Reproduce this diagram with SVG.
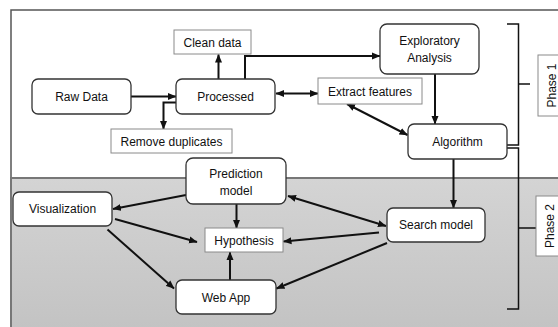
<svg xmlns="http://www.w3.org/2000/svg" width="558" height="327" viewBox="0 0 558 327">
  <defs>
    <linearGradient id="phase2Fill" x1="0" y1="0" x2="0" y2="1">
      <stop offset="0" stop-color="#d4d4d4"/>
      <stop offset="1" stop-color="#c2c2c2"/>
    </linearGradient>
    <marker id="arrow" markerUnits="userSpaceOnUse" markerWidth="9" markerHeight="8" refX="8" refY="4" orient="auto-start-reverse">
      <path d="M0,0.5 L8.5,4 L0,7.5 z" fill="#111"/>
    </marker>
    <style>
      .node { fill: #fff; stroke: #333; stroke-width: 1.3; }
      .box { fill: #fff; stroke: #8a8a8a; stroke-width: 1; }
      .label { font-family: "Liberation Sans", Arial, sans-serif; font-size: 12px; fill: #111; text-anchor: middle; }
      .link { fill: none; stroke: #111; stroke-width: 2; }
      .bracket { fill: none; stroke: #111; stroke-width: 1.5; }
    </style>
  </defs>

  <!-- phase panels -->
  <g id="phase1-panel">
    <rect x="11" y="10" width="560" height="168" fill="#fff" stroke="#555" stroke-width="1.5"/>
  </g>
  <g id="phase2-panel">
    <rect x="11" y="178" width="560" height="160" fill="url(#phase2Fill)" stroke="#777" stroke-width="2"/>
  </g>

  <!-- connectors -->
  <g id="connectors">
    <path class="link" d="M131,96.5 H176" marker-end="url(#arrow)"/>
    <path class="link" d="M218.5,79 V54.5" marker-end="url(#arrow)"/>
    <path class="link" d="M245,79 V56 H380" marker-end="url(#arrow)"/>
    <path class="link" d="M176,102.5 H163.5 V129" marker-end="url(#arrow)"/>
    <path class="link" d="M276,93.5 H318" marker-start="url(#arrow)" marker-end="url(#arrow)"/>
    <path class="link" d="M347,104 L407.5,135" marker-start="url(#arrow)" marker-end="url(#arrow)"/>
    <path class="link" d="M435,74 V124" marker-end="url(#arrow)"/>
    <path class="link" d="M453.5,159 V208" marker-end="url(#arrow)"/>
    <path class="link" d="M186,195 L113,209" marker-end="url(#arrow)"/>
    <path class="link" d="M236.5,204 V228" marker-end="url(#arrow)"/>
    <path class="link" d="M115,219 L197,242" marker-end="url(#arrow)"/>
    <path class="link" d="M107.5,229.5 L174,288.5" marker-end="url(#arrow)"/>
    <path class="link" d="M230,280 V252" marker-end="url(#arrow)"/>
    <path class="link" d="M288,196 L386,226" marker-start="url(#arrow)" marker-end="url(#arrow)"/>
    <path class="link" d="M379,232.5 L283.5,241.5" marker-end="url(#arrow)"/>
    <path class="link" d="M387,243 L276.5,288.5" marker-end="url(#arrow)"/>
    <!-- phase brackets -->
    <path class="bracket" d="M507,24 H518.5 V145 H507 M518.5,84 H530"/>
    <path class="bracket" d="M507,148 H518.5 V309 H507 M518.5,228 H537"/>
  </g>

  <!-- nodes -->
  <g id="raw-data">
    <rect class="node" x="32" y="79" width="99" height="35" rx="6"/>
    <text class="label" x="81.5" y="100.5">Raw Data</text>
  </g>
  <g id="processed">
    <rect class="node" x="176" y="79" width="99" height="35" rx="6"/>
    <text class="label" x="225.5" y="100.5">Processed</text>
  </g>
  <g id="clean-data">
    <rect class="box" x="174" y="30" width="77" height="24"/>
    <text class="label" x="212.5" y="46.5">Clean data</text>
  </g>
  <g id="remove-duplicates">
    <rect class="box" x="111" y="129" width="121" height="24"/>
    <text class="label" x="171.5" y="145.5">Remove duplicates</text>
  </g>
  <g id="exploratory-analysis">
    <rect class="node" x="380" y="24" width="99" height="50" rx="7"/>
    <text class="label" x="429.5" y="45">Exploratory</text>
    <text class="label" x="429.5" y="62">Analysis</text>
  </g>
  <g id="extract-features">
    <rect class="box" x="318" y="78" width="104" height="26"/>
    <text class="label" x="370" y="95.5">Extract features</text>
  </g>
  <g id="algorithm">
    <rect class="node" x="408" y="124" width="99" height="35" rx="6"/>
    <text class="label" x="457.5" y="145.5">Algorithm</text>
  </g>
  <g id="prediction-model">
    <rect class="node" x="186" y="158" width="100" height="46" rx="7"/>
    <text class="label" x="236" y="178">Prediction</text>
    <text class="label" x="236" y="195">model</text>
  </g>
  <g id="visualization">
    <rect class="node" x="13" y="192" width="99" height="34" rx="6"/>
    <text class="label" x="62.5" y="213">Visualization</text>
  </g>
  <g id="hypothesis">
    <rect class="box" x="205" y="228" width="78" height="24"/>
    <text class="label" x="244" y="244.5">Hypothesis</text>
  </g>
  <g id="web-app">
    <rect class="node" x="176" y="280" width="100" height="34" rx="6"/>
    <text class="label" x="226" y="301.5">Web App</text>
  </g>
  <g id="search-model">
    <rect class="node" x="387" y="208" width="98" height="34" rx="6"/>
    <text class="label" x="436" y="229">Search model</text>
  </g>
  <g id="phase-1">
    <rect class="box" x="538" y="55" width="30" height="61"/>
    <text class="label" transform="translate(552,85.5) rotate(-90)" y="4">Phase 1</text>
  </g>
  <g id="phase-2">
    <rect class="box" x="536" y="196" width="30" height="60"/>
    <text class="label" transform="translate(550,226) rotate(-90)" y="4">Phase 2</text>
  </g>
</svg>
